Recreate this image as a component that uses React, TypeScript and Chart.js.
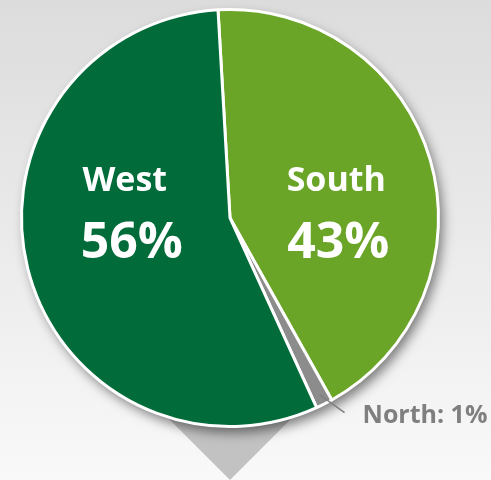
import React, { useEffect, useRef } from "react";
import { Chart, registerables } from "chart.js";
Chart.register(...registerables);

const categories = ["South", "North", "West"];
const shares = [42.8, 1.3, 55.9];
const sliceColors = ["#6aa527", "#8c8c8c", "#016b39"];
const rotationDeg = -3.3;

export default function App() {
  const ref = useRef<HTMLCanvasElement>(null);

  useEffect(() => {
    document.body.style.margin = "0";
    const total = shares.reduce((a, b) => a + b, 0);
    const FONT = "'Open Sans', 'Noto Sans', sans-serif";

    const deco = {
      id: "deco",
      beforeDraw(chart: any) {
        const { ctx, width, height } = chart;
        ctx.save();
        const g = ctx.createLinearGradient(0, 0, 0, height);
        g.addColorStop(0, "#dcdcdc");
        g.addColorStop(1, "#f9f9f9");
        ctx.fillStyle = g;
        ctx.fillRect(0, 0, width, height);
        const arc = chart.getDatasetMeta(0).data[0];
        const cx = arc.x;
        ctx.fillStyle = "#c2c2c2";
        ctx.beginPath();
        ctx.moveTo(cx - 100, height - 100);
        ctx.lineTo(cx + 100, height - 100);
        ctx.lineTo(cx, height);
        ctx.closePath();
        ctx.fill();
        ctx.restore();
      },
      beforeDatasetsDraw(chart: any) {
        const { ctx } = chart;
        const arc = chart.getDatasetMeta(0).data[0];
        ctx.save();
        ctx.shadowColor = "rgba(0,0,0,0.5)";
        ctx.shadowBlur = 12;
        ctx.shadowOffsetX = 4;
        ctx.shadowOffsetY = 6;
        ctx.fillStyle = "#ffffff";
        ctx.beginPath();
        ctx.arc(arc.x, arc.y, arc.outerRadius, 0, Math.PI * 2);
        ctx.fill();
        ctx.restore();
      },
      afterDatasetsDraw(chart: any) {
        const { ctx } = chart;
        const meta = chart.getDatasetMeta(0);
        ctx.save();
        meta.data.forEach((arc: any, i: number) => {
          const pct = Math.round((shares[i] / total) * 100);
          const mid = (arc.startAngle + arc.endAngle) / 2;
          const cx = arc.x, cy = arc.y, r = arc.outerRadius;
          if (pct >= 5) {
            const side = Math.cos(mid) >= 0 ? 1 : -1;
            const x = cx + side * 0.5 * r;
            ctx.fillStyle = "#ffffff";
            ctx.textAlign = "center";
            ctx.textBaseline = "alphabetic";
            ctx.font = `bold 34px ${FONT}`;
            ctx.fillText(categories[i], x + (side < 0 ? -1 : 2), cy - 27);
            ctx.font = `bold 50px ${FONT}`;
            ctx.fillText(pct + "%", x + (side < 0 ? 6 : 4), cy + 40);
          } else {
            const px = cx + Math.cos(mid) * r * 0.95;
            const py = cy + Math.sin(mid) * r * 0.95;
            const ex = px + 25, ey = py + 18;
            ctx.strokeStyle = "#7f7f7f";
            ctx.lineWidth = 1.5;
            ctx.beginPath();
            ctx.moveTo(px, py);
            ctx.lineTo(ex, ey);
            ctx.stroke();
            ctx.fillStyle = "#7f7f7f";
            ctx.textAlign = "left";
            ctx.textBaseline = "alphabetic";
            ctx.font = `bold 25px ${FONT}`;
            ctx.fillText(`${categories[i]}: ${pct}%`, ex + 18, ey + 10);
          }
        });
        ctx.restore();
      },
    };

    const chart = new Chart(ref.current!, {
      type: "pie",
      data: {
        labels: categories,
        datasets: [
          {
            data: shares,
            backgroundColor: sliceColors,
            borderColor: "#ffffff",
            borderWidth: 3,
          },
        ],
      },
      options: {
        responsive: false,
        animation: false,
        rotation: rotationDeg,
        layout: { padding: { left: 20, top: 8, right: 51, bottom: 52 } },
        plugins: {
          legend: { display: false },
          tooltip: { enabled: false },
          title: { display: false },
        },
      },
      plugins: [deco],
    });
    return () => chart.destroy();
  }, []);

  return <canvas ref={ref} width={491} height={480} style={{ display: "block" }} />;
}
